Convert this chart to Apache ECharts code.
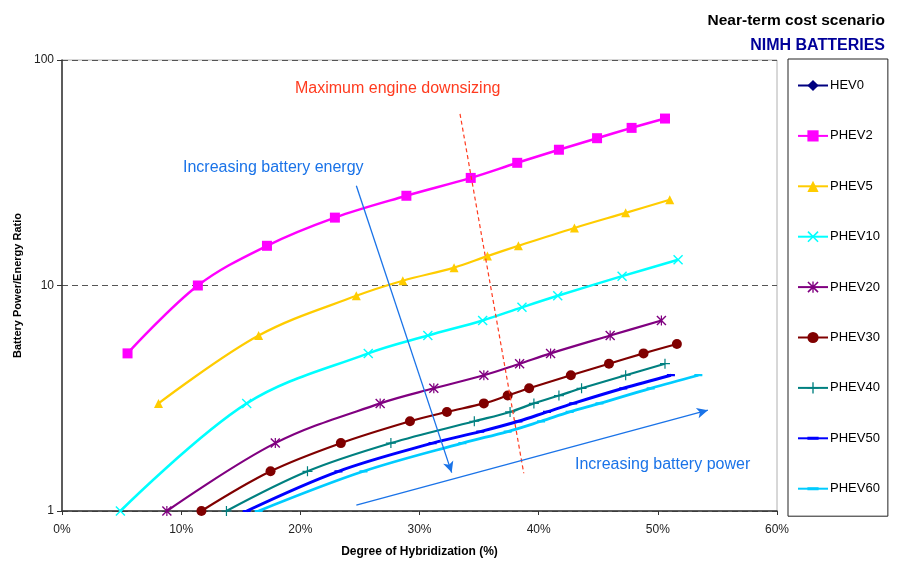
<!DOCTYPE html>
<html>
<head>
<meta charset="utf-8">
<script src="https://cdn.jsdelivr.net/npm/echarts@6/dist/echarts.min.js"></script>
<style>
html,body{margin:0;padding:0;background:#fff;}
#chart{width:897px;height:563px;}
</style>
</head>
<body>
<div id="chart"></div>
<script>
// ---- data (x = degree of hybridization %, y = battery power/energy ratio) ----
const seriesNames = ['HEV0','PHEV2','PHEV5','PHEV10','PHEV20','PHEV30','PHEV40','PHEV50','PHEV60'];

const hev0X = [];
const hev0Y = [];

const phev2X = [5.5, 11.4, 17.2, 22.9, 28.9, 34.3, 38.2, 41.7, 44.9, 47.8, 50.6];
const phev2Y = [5, 10, 15, 20, 25, 30, 35, 40, 45, 50, 55];

const phev5X = [8.1, 16.5, 24.7, 28.6, 32.9, 35.7, 38.3, 43.0, 47.3, 51.0];
const phev5Y = [3, 6, 9, 10.5, 12, 13.5, 15, 18, 21, 24];

const phev10X = [4.9, 15.5, 25.7, 30.7, 35.3, 38.6, 41.6, 47.0, 51.7];
const phev10Y = [1, 3, 5, 6, 7, 8, 9, 11, 13];

const phev20X = [8.8, 17.9, 26.7, 31.2, 35.4, 38.4, 41.0, 46.0, 50.3];
const phev20Y = [1, 2, 3, 3.5, 4, 4.5, 5, 6, 7];

const phev30X = [11.7, 17.5, 23.4, 29.2, 32.3, 35.4, 37.4, 39.2, 42.7, 45.9, 48.8, 51.6];
const phev30Y = [1, 1.5, 2, 2.5, 2.75, 3, 3.25, 3.5, 4, 4.5, 5, 5.5];

const phev40X = [13.8, 20.6, 27.6, 34.6, 37.6, 39.6, 41.7, 43.6, 47.3, 50.6];
const phev40Y = [1, 1.5, 2, 2.5, 2.75, 3, 3.25, 3.5, 4, 4.5];

const phev50X = [15.5, 23.2, 31.1, 35.1, 38.3, 40.7, 42.9, 47.1, 51.1];
const phev50Y = [1, 1.5, 2, 2.25, 2.5, 2.75, 3, 3.5, 4];

const phev60X = [16.5, 25.3, 33.6, 37.4, 40.2, 42.6, 45.1, 49.4, 53.4];
const phev60Y = [1, 1.5, 2, 2.25, 2.5, 2.75, 3, 3.5, 4];

const xTicks = [0, 10, 20, 30, 40, 50, 60];
const yTicks = [1, 10, 100];

// annotation lines in data coordinates [x%, ratio]
const downsizingLine = [[33.4, 57.7], [38.75, 1.47]];
const energyArrow = [[24.7, 27.7], [32.7, 1.48]];
const powerArrow = [[24.7, 1.063], [54.2, 2.80]];

// ---- styles ----
const FONT = 'Liberation Sans, Arial, sans-serif';
const SYM_X = 'path://M0,1L1,0L5,4L9,0L10,1L6,5L10,9L9,10L5,6L1,10L0,9L4,5Z';
const SYM_STAR = 'path://M0,1L1,0L5,4L9,0L10,1L6,5L10,9L9,10L5,6L1,10L0,9L4,5Z M4.4,0L5.6,0L5.6,10L4.4,10Z';
const SYM_PLUS = 'path://M4.4,0L5.6,0L5.6,4.4L10,4.4L10,5.6L5.6,5.6L5.6,10L4.4,10L4.4,5.6L0,5.6L0,4.4L4.4,4.4Z';
// dash with invisible specks at the corners so the box stays square
const SYM_DASH = 'path://M0,3.6L10,3.6L10,6.4L0,6.4Z M0,0L0.01,0L0,0.01Z M10,10L9.99,10L10,9.99Z';

const styles = {
  HEV0:   {color:'#000080', symbol:'diamond', size:8, width:2},
  PHEV2:  {color:'#FF00FF', symbol:'rect', size:10, width:2.5},
  PHEV5:  {color:'#FFCC00', symbol:'triangle', size:9, width:2.2},
  PHEV10: {color:'#00FFFF', symbol:SYM_X, size:10, width:2.5},
  PHEV20: {color:'#800080', symbol:SYM_STAR, size:10, width:2.2},
  PHEV30: {color:'#800000', symbol:'circle', size:10, width:2.2},
  PHEV40: {color:'#008080', symbol:SYM_PLUS, size:10, width:2.2},
  PHEV50: {color:'#0000FF', symbol:SYM_DASH, size:8, width:3},
  PHEV60: {color:'#00CCFF', symbol:SYM_DASH, size:8, width:2.8}
};

const xs = [hev0X, phev2X, phev5X, phev10X, phev20X, phev30X, phev40X, phev50X, phev60X];
const ys = [hev0Y, phev2Y, phev5Y, phev10Y, phev20Y, phev30Y, phev40Y, phev50Y, phev60Y];

const series = seriesNames.map((name, i) => {
  const s = styles[name];
  return {
    name: name,
    type: 'line',
    smooth: 0.35,
    data: xs[i].map((x, j) => [x, ys[i][j]]),
    symbol: s.symbol,
    symbolSize: s.size,
    symbolKeepAspect: true,
    showAllSymbol: true,
    lineStyle: {color: s.color, width: s.width},
    itemStyle: {color: s.color},
    z: 3 + (seriesNames.length - i) * 0.01,
    emphasis: {disabled: true}
  };
});

series.push({
  name: 'annotations',
  type: 'line',
  data: [],
  silent: true,
  z: 5,
  markLine: {
    silent: true,
    animation: false,
    label: {show: false},
    data: [
      [{coord: downsizingLine[0], symbol: 'none', lineStyle: {color: '#FF3B1F', type: [4, 3], width: 1.2}},
       {coord: downsizingLine[1], symbol: 'none'}],
      [{coord: energyArrow[0], symbol: 'none', lineStyle: {color: '#1A73E8', type: 'solid', width: 1.3}},
       {coord: energyArrow[1], symbol: 'arrow', symbolSize: [8, 11]}],
      [{coord: powerArrow[0], symbol: 'none', lineStyle: {color: '#1A73E8', type: 'solid', width: 1.3}},
       {coord: powerArrow[1], symbol: 'arrow', symbolSize: [8, 11]}]
    ]
  }
});

const chart = echarts.init(document.getElementById('chart'), null, {renderer: 'canvas'});
chart.setOption({
  animation: false,
  backgroundColor: '#fff',
  textStyle: {fontFamily: FONT},
  title: [
    {text: 'Near-term cost scenario', right: 7, top: 8,
     textStyle: {fontFamily: FONT, fontSize: 15.5, fontWeight: 'bold', color: '#000'}},
    {text: 'NIMH BATTERIES', right: 7, top: 33,
     textStyle: {fontFamily: FONT, fontSize: 16, fontWeight: 'bold', color: '#000099'}}
  ],
  grid: {left: 62, right: 120, top: 60, bottom: 51, show: true, borderColor: '#b0b0b0', borderWidth: 1},
  legend: {
    data: seriesNames,
    orient: 'vertical',
    left: 788,
    top: 59,
    padding: [20, 8, 21, 9],
    itemWidth: 30,
    itemHeight: 14,
    itemGap: 37.4,
    borderColor: '#222',
    borderWidth: 1,
    selectedMode: false,
    textStyle: {fontFamily: FONT, fontSize: 13, color: '#000', padding: [0, 0, 0, -3]}
  },
  xAxis: {
    type: 'value',
    min: 0, max: 60, interval: 10,
    name: 'Degree of Hybridization (%)',
    nameLocation: 'middle',
    nameGap: 35,
    nameTextStyle: {fontFamily: FONT, fontSize: 12, fontWeight: 'bold', color: '#000'},
    axisLine: {show: true, lineStyle: {color: '#333', width: 1.5}},
    axisTick: {show: true, length: 4, lineStyle: {color: '#333'}},
    axisLabel: {formatter: v => xTicks.includes(v) ? v + '%' : '', fontSize: 12, color: '#222', margin: 13},
    splitLine: {show: false}
  },
  yAxis: {
    type: 'log',
    logBase: 10,
    min: yTicks[0], max: yTicks[yTicks.length - 1],
    name: 'Battery Power/Energy Ratio',
    nameLocation: 'middle',
    nameGap: 39,
    nameTextStyle: {fontFamily: FONT, fontSize: 11, fontWeight: 'bold', color: '#000'},
    axisLine: {show: true, lineStyle: {color: '#333', width: 1.5}},
    axisTick: {show: true, length: 5, lineStyle: {color: '#333'}},
    axisLabel: {fontSize: 12, color: '#222', margin: 8},
    minorTick: {show: false},
    splitLine: {show: true, lineStyle: {color: '#555', type: [6, 4], width: 1}}
  },
  graphic: [
    {type: 'text', left: 295, top: 81, style: {text: 'Maximum engine downsizing', fill: '#FF3B1F', font: '16px ' + FONT}},
    {type: 'text', left: 183, top: 160, style: {text: 'Increasing battery energy', fill: '#1A73E8', font: '16px ' + FONT}},
    {type: 'text', left: 575, top: 457, style: {text: 'Increasing battery power', fill: '#1A73E8', font: '16px ' + FONT}}
  ],
  series: series
});
</script>
</body>
</html>
